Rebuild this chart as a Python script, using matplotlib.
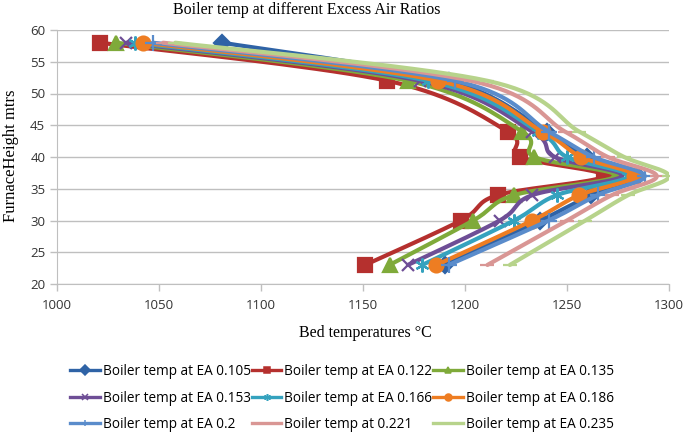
import numpy as np
import matplotlib
matplotlib.use("Agg")
import matplotlib.pyplot as plt
from matplotlib.lines import Line2D

heights = [58, 52, 44, 40, 37, 34, 30, 23]
ea_0105 = [1081, 1192, 1240, 1260, 1285, 1262, 1237, 1190]
ea_0122 = [1021, 1162, 1221, 1227, 1268, 1216, 1198, 1151]
ea_0135 = [1029, 1172, 1228, 1234, 1274, 1224, 1204, 1163]
ea_0153 = [1034, 1178, 1233, 1244, 1277, 1233, 1217, 1172]
ea_0166 = [1038, 1182, 1236, 1250, 1280, 1245, 1224, 1179]
ea_0186 = [1042, 1187, 1238, 1257, 1283, 1256, 1233, 1186]
ea_0200 = [1047, 1195, 1241, 1263, 1288, 1265, 1241, 1192]
ea_0221 = [1052, 1203, 1249, 1270, 1294, 1272, 1250, 1211]
ea_0235 = [1058, 1211, 1256, 1278, 1300, 1280, 1259, 1222]

labels = ["Boiler temp at EA 0.105", "Boiler temp at EA 0.122", "Boiler temp at EA 0.135",
          "Boiler temp at EA 0.153", "Boiler temp at EA 0.166", "Boiler temp at EA 0.186",
          "Boiler temp at EA 0.2", "Boiler temp at 0.221", "Boiler temp at EA 0.235"]
series = [ea_0105, ea_0122, ea_0135, ea_0153, ea_0166, ea_0186, ea_0200, ea_0221, ea_0235]
colors = ["#2F63A6", "#B5302E", "#7FAA3A", "#6E4E96", "#35A2BE", "#EE7D22",
          "#5A8CCB", "#D99694", "#B7D38B"]
markers = ["D", "s", "^", "x", (6, 2, 0), "o", "+", "_", "_"]
msizes = [8, 10, 10, 9, 10, 10, 11, 10, 10]


def smooth(xs, ys, n=20):
    """Excel-like smoothed line (Bezier with 1/6 tangents) through data points."""
    p = np.column_stack([xs, ys]).astype(float)
    out = []
    m = len(p)
    for i in range(m - 1):
        p0 = p[i - 1] if i > 0 else p[i]
        p1 = p[i]
        p2 = p[i + 1]
        p3 = p[i + 2] if i + 2 < m else p[i + 1]
        c1 = p1 + (p2 - p0) / 6.0
        c2 = p2 - (p3 - p1) / 6.0
        t = np.linspace(0, 1, n)[:, None]
        seg = ((1 - t) ** 3) * p1 + 3 * ((1 - t) ** 2) * t * c1 + 3 * (1 - t) * t ** 2 * c2 + t ** 3 * p2
        out.append(seg if i == 0 else seg[1:])
    seg = np.vstack(out)
    return seg[:, 0], seg[:, 1]


fig = plt.figure(figsize=(6.85, 4.32), dpi=100)
ax = fig.add_axes([57 / 685, 1 - 284 / 432, (669 - 57) / 685, (284 - 30) / 432])

handles = []
for k, (vals, lab, col, mk, ms) in enumerate(zip(series, labels, colors, markers, msizes)):
    sx, sy = smooth(vals, heights)
    ax.plot(sx, sy, color=col, lw=3.0, solid_capstyle="round", zorder=2 + 2 * k)
    ax.plot(vals, heights, linestyle="none", marker=mk, markersize=ms, color=col,
            markeredgecolor=col, markeredgewidth=1.6, zorder=3 + 2 * k)
    handles.append(Line2D([0], [0], color=col, lw=2.4, marker=mk, markersize=5,
                          markeredgecolor=col, markeredgewidth=1.1))

ax.set_xlim(1000, 1300)
ax.set_ylim(20, 60)
ax.set_xticks(np.arange(1000, 1301, 50))
ax.set_yticks(np.arange(20, 61, 5))
ax.grid(axis="y", color="#BFBFBF", lw=1.0)
ax.set_axisbelow(True)
for s in ["top", "right"]:
    ax.spines[s].set_visible(False)
for s in ["left", "bottom"]:
    ax.spines[s].set_color("#BFBFBF")
ax.tick_params(axis="both", colors="#BFBFBF", labelcolor="#333333", labelsize=9.5,
               length=5, width=1)
for lab in ax.get_xticklabels() + ax.get_yticklabels():
    lab.set_fontfamily("Open Sans")
ax.tick_params(axis="x", pad=6)

fig.text(307 / 685, 1 - 10 / 432, "Boiler temp at different Excess Air Ratios",
         ha="center", va="center", family="Liberation Serif", fontsize=11.5)
fig.text(11 / 685, 1 - 156 / 432, "FurnaceHeight mtrs", rotation=90,
         ha="center", va="center", family="Liberation Serif", fontsize=12)
fig.text(365 / 685, 1 - 333 / 432, "Bed temperatures °C",
         ha="center", va="center", family="Liberation Serif", fontsize=11.5)

order = [0, 3, 6, 1, 4, 7, 2, 5, 8]
fig.legend([handles[i] for i in order], [labels[i] for i in order], ncol=3, loc="center",
           bbox_to_anchor=(342 / 685, 1 - 398 / 432), frameon=False,
           prop={"family": "Open Sans", "size": 9.8}, handlelength=2.15,
           handletextpad=0.22, columnspacing=0.1, labelspacing=0.85)

fig.savefig("out.png", dpi=100)
